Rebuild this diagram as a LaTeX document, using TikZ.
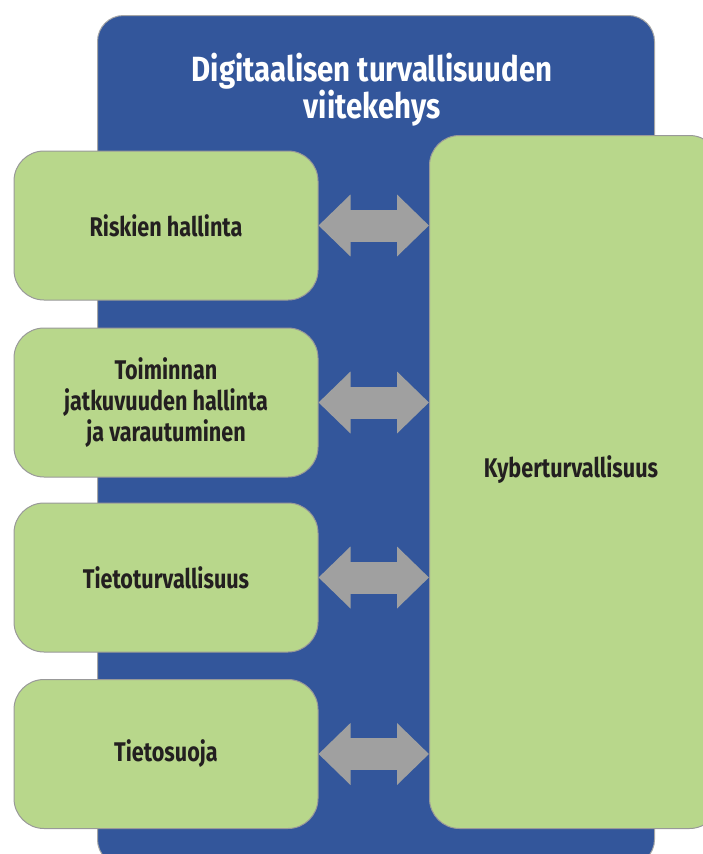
\documentclass[tikz,border=0pt]{standalone}
\usepackage{fontspec}
\newfontfamily\cond[FakeStretch=0.8]{Fira Sans}
\newfontfamily\condt[FakeStretch=0.84]{Fira Sans}
\usetikzlibrary{arrows.meta}
\definecolor{frameblue}{HTML}{33569B}
\definecolor{boxgreen}{HTML}{B8D78B}
\definecolor{arrowgray}{HTML}{A0A0A0}
\definecolor{txtdark}{HTML}{231F20}
\tikzset{
  boxfont/.style={font=\cond\bfseries\fontsize{27}{31}\selectfont},
  greenbox/.style={draw=gray!80, line width=1pt, fill=boxgreen, rounded corners=30pt,
    text=txtdark, align=center, boxfont},
  biarrow/.style={draw=arrowgray, line width=32pt,
    {Triangle[length=32pt,width=60pt]}-{Triangle[length=32pt,width=60pt]}}
}
\begin{document}
\begin{tikzpicture}[x=1pt,y=-1pt]
\useasboundingbox (0,0) rectangle (703,854);
% blue frame
\node[draw=gray!70, line width=1pt, fill=frameblue, rounded corners=26pt, minimum width=557pt, minimum height=850pt, anchor=north west, inner sep=0pt] (frame) at (97,15) {};
\node[text=white, align=center, font=\condt\bfseries\fontsize{35}{31}\selectfont] (title) at (372,90) {Digitaalisen turvallisuuden\\viitekehys};
% right box
\node[greenbox, minimum width=290pt, minimum height=693pt, anchor=north west, inner sep=0pt] (kyber) at (429,135) {};
\node[text=txtdark, boxfont] (kybertxt) at (571,470) {Kyberturvallisuus};
% left boxes
\node[greenbox, minimum width=304pt, minimum height=149pt, inner sep=0pt] (b1) at (166,225.5) {Riskien hallinta};
\node[greenbox, minimum width=304pt, minimum height=149pt, inner sep=0pt] (b2) at (166,402.5) {Toiminnan\\jatkuvuuden hallinta\\ja varautuminen};
\node[greenbox, minimum width=304pt, minimum height=149pt, inner sep=0pt] (b3) at (166,577.5) {Tietoturvallisuus};
\node[greenbox, minimum width=304pt, minimum height=149pt, inner sep=0pt] (b4) at (166,754) {Tietosuoja};
% arrows
\foreach \b in {b1,b2,b3,b4}{
  \draw[biarrow] (\b.east) -- (\b.east -| kyber.west);
}
\end{tikzpicture}
\end{document}
